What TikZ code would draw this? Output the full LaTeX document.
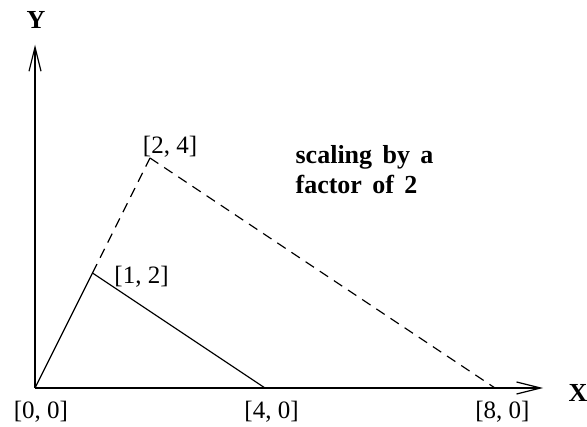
\documentclass[tikz,border=0pt]{standalone}
\usepackage{fontspec}
\setmainfont{Liberation Serif}
\usepackage{tikz}
\usetikzlibrary{arrows.meta}

\newcommand{\widesp}{\spaceskip=0.4em\relax}

\tikzset{
  lbl/.style={font=\fontsize{25}{30}\selectfont,inner sep=0pt,anchor=base},
  axlbl/.style={lbl,font=\fontsize{26}{30}\selectfont\bfseries},
  note/.style={inner sep=0pt,anchor=base west,
    font=\fontsize{26}{30}\selectfont\bfseries\widesp}
}

\begin{document}
\begin{tikzpicture}[x=57.5pt,y=57.5pt,>={Straight Barb[length=24pt,width=12pt]},line join=round,line width=1.2pt]
  \useasboundingbox (-0.609,-0.661) rectangle (9.600,6.748);
  \coordinate (O) at (0.000,0.000);
  \coordinate (YT) at (0.000,5.970);
  \coordinate (XT) at (8.835,0.000);
  \coordinate (P1) at (1.000,2.000);
  \coordinate (Q1) at (4.000,0.000);
  \coordinate (P2) at (2.000,4.000);
  \coordinate (Q2) at (8.000,0.000);
  \draw[->] (O) -- (YT);
  \draw[->] (O) -- (XT);
  \draw (O) -- (P1);
  \draw (P1) -- (Q1);
  \draw[dash pattern=on 10pt off 7pt] (P1) -- (P2);
  \draw[dash pattern=on 10pt off 7pt] (P2) -- (Q2);
  \node[axlbl] (Ylab) at (0.017,6.261) {Y};
  \node[axlbl] (Xlab) at (9.443,-0.243) {X};
  \node[lbl] (O0) at (0.104,-0.530) {[0, 0]};
  \node[lbl] (Q1lab) at (4.113,-0.530) {[4, 0]};
  \node[lbl] (Q2lab) at (8.130,-0.530) {[8, 0]};
  \node[lbl] (P1lab) at (1.852,1.826) {[1, 2]};
  \node[lbl] (P2lab) at (2.348,4.087) {[2, 4]};
  \node[note] (N1) at (4.522,3.913) {scaling by a};
  \node[note] (N2) at (4.522,3.391) {factor of 2};
\end{tikzpicture}
\end{document}
